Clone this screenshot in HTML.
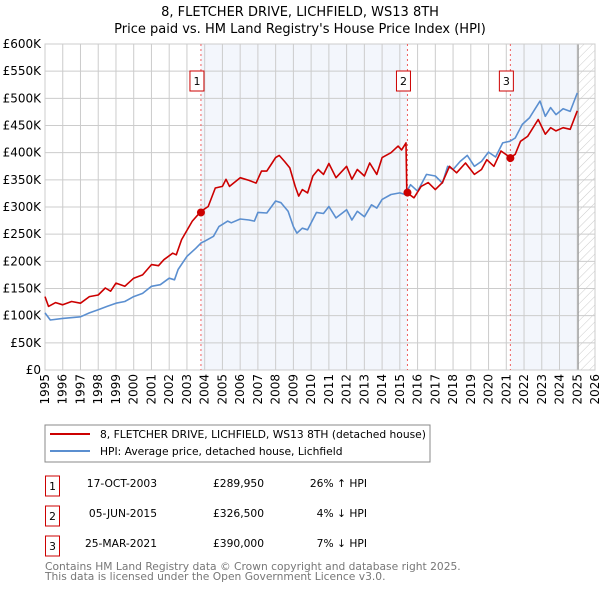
<!DOCTYPE html>
<html><head><meta charset="utf-8"><style>
body{margin:0;background:#fff;font-family:"Liberation Sans","DejaVu Sans",sans-serif}
svg text{font-family:"DejaVu Sans","Liberation Sans",sans-serif}
</style></head><body>
<svg id="chart" width="600" height="590" xmlns="http://www.w3.org/2000/svg">
<defs><pattern id="hatch" width="6" height="6" patternUnits="userSpaceOnUse" patternTransform="rotate(45)"><line x1="0" y1="0" x2="0" y2="6" stroke="#ccc" stroke-width="1"/></pattern></defs>
<text x="300" y="16" text-anchor="middle" font-size="13">8, FLETCHER DRIVE, LICHFIELD, WS13 8TH</text>
<text x="300" y="33" text-anchor="middle" font-size="13">Price paid vs. HM Land Registry's House Price Index (HPI)</text>
<g id="plot"></g>
<g>
<rect x="45" y="425" width="385" height="37" fill="#fff" stroke="#888"/>
<line x1="50" y1="434" x2="90" y2="434" stroke="#cc0000" stroke-width="2"/>
<text x="100" y="438" font-size="10.7">8, FLETCHER DRIVE, LICHFIELD, WS13 8TH (detached house)</text>
<line x1="50" y1="451" x2="90" y2="451" stroke="#5b8fd0" stroke-width="2"/>
<text x="100" y="455" font-size="10.7">HPI: Average price, detached house, Lichfield</text>
</g>
<g font-size="10.7">
<rect x="45.5" y="476" width="14" height="20" fill="#fff" stroke="#cc0000"/><text x="52.5" y="490" text-anchor="middle">1</text>
<text x="157" y="487" text-anchor="end">17-OCT-2003</text><text x="264" y="487" text-anchor="end">£289,950</text><text x="367" y="487" text-anchor="end">26% ↑ HPI</text>
<rect x="45.5" y="506" width="14" height="20" fill="#fff" stroke="#cc0000"/><text x="52.5" y="520" text-anchor="middle">2</text>
<text x="157" y="517" text-anchor="end">05-JUN-2015</text><text x="264" y="517" text-anchor="end">£326,500</text><text x="367" y="517" text-anchor="end">4% ↓ HPI</text>
<rect x="45.5" y="536" width="14" height="20" fill="#fff" stroke="#cc0000"/><text x="52.5" y="550" text-anchor="middle">3</text>
<text x="157" y="547" text-anchor="end">25-MAR-2021</text><text x="264" y="547" text-anchor="end">£390,000</text><text x="367" y="547" text-anchor="end">7% ↓ HPI</text>
</g>
<text x="45" y="570" font-size="10.7" fill="#777">Contains HM Land Registry data © Crown copyright and database right 2025.</text>
<text x="45" y="580" font-size="10.7" fill="#777">This data is licensed under the Open Government Licence v3.0.</text>
</svg>
<script>
const hpiYears=[1995,1995.3,1996,1997,1997.5,1998,1998.5,1999,1999.5,2000,2000.5,2001,2001.5,2002,2002.3,2002.5,2003,2003.5,2003.8,2004,2004.5,2004.8,2005,2005.3,2005.5,2006,2006.5,2006.8,2007,2007.5,2008,2008.3,2008.7,2009,2009.2,2009.5,2009.8,2010.3,2010.7,2011,2011.4,2012,2012.3,2012.6,2013,2013.4,2013.7,2014,2014.5,2015,2015.3,2015.6,2016,2016.5,2017,2017.4,2017.7,2018,2018.4,2018.8,2019.2,2019.6,2020,2020.4,2020.8,2021.2,2021.5,2021.9,2022.3,2022.9,2023.2,2023.5,2023.8,2024.2,2024.6,2025];
const hpiValues=[105,92,95,98,105,111,117,123,126,135,141,154,157,169,166,185,209,224,234,237,246,264,268,274,271,278,276,274,290,289,311,308,292,264,252,261,258,290,288,301,280,295,276,292,282,304,298,314,323,326,323,341,329,360,357,344,375,369,384,395,375,384,401,392,418,421,427,452,464,495,467,483,470,481,476,510];
const propYears=[1995,1995.2,1995.6,1996,1996.5,1997,1997.5,1998,1998.4,1998.7,1999,1999.5,2000,2000.5,2001,2001.4,2001.7,2002.2,2002.4,2002.7,2003.3,2003.79,2004.2,2004.6,2005,2005.2,2005.4,2006,2006.5,2006.9,2007.2,2007.5,2007.8,2008,2008.2,2008.5,2008.8,2009.1,2009.3,2009.5,2009.8,2010.1,2010.4,2010.7,2011,2011.4,2012,2012.3,2012.6,2013,2013.3,2013.7,2014,2014.5,2014.9,2015.1,2015.35,2015.39,2015.8,2016.2,2016.6,2017,2017.4,2017.8,2018.2,2018.7,2019.2,2019.6,2019.9,2020.3,2020.7,2021.23,2021.5,2021.8,2022.2,2022.8,2023.2,2023.5,2023.8,2024.2,2024.6,2025];
const propValues=[135,117,124,120,126,123,135,138,151,145,160,154,169,175,194,192,203,215,212,240,274,292,301,335,338,351,338,354,349,344,366,366,381,391,395,384,372,338,320,332,326,357,369,360,380,354,375,351,369,357,381,360,391,400,412,405,418,326.5,317,338,345,332,345,375,363,381,360,369,387,375,403,391,397,421,430,461,434,446,440,446,443,477];
const saleYears=[2003.79,2015.43,2021.23];
const saleValues=[289.95,326.5,390];
const saleLabels=["1","2","3"];
const yTicks=[0,50,100,150,200,250,300,350,400,450,500,550,600];
const yTickLabels=["£0","£50K","£100K","£150K","£200K","£250K","£300K","£350K","£400K","£450K","£500K","£550K","£600K"];
const xTicks=[1995,1996,1997,1998,1999,2000,2001,2002,2003,2004,2005,2006,2007,2008,2009,2010,2011,2012,2013,2014,2015,2016,2017,2018,2019,2020,2021,2022,2023,2024,2025,2026];

const X0=45,X1=595,Y0=370,Y1=44;
const xs=y=>X0+(y-1995)/31*(X1-X0);
const ys=v=>Y0-v/600*(Y0-Y1);
const NS="http://www.w3.org/2000/svg";
const g=document.getElementById('plot');
function mk(t,a){const e=document.createElementNS(NS,t);for(const k in a)e.setAttribute(k,a[k]);g.appendChild(e);return e;}
let bg=mk('rect',{x:X0,y:Y1,width:X1-X0,height:Y0-Y1,fill:'#fff'});


const spans=[[saleYears[0],saleYears[1]],[saleYears[2],2025.05]];
spans.forEach((s,i)=>{const r=mk('rect',{x:xs(s[0]),y:Y1,width:xs(s[1])-xs(s[0]),height:Y0-Y1,fill:'#eef2fb',opacity:0.7});

});
let ht=mk('rect',{x:xs(2025.05),y:Y1,width:X1-xs(2025.05),height:Y0-Y1,fill:'url(#hatch)'});


yTicks.forEach((v,i)=>{const l=mk('line',{x1:X0,x2:X1,y1:ys(v),y2:ys(v),stroke:'#ccc','stroke-width':1});


const t=mk('text',{x:X0-4,y:ys(v)+4,'text-anchor':'end','font-size':12});t.textContent=yTickLabels[i];

});
xTicks.forEach(y=>{const l=mk('line',{x1:xs(y),x2:xs(y),y1:Y1,y2:Y0,stroke:'#ccc','stroke-width':1});


const t=mk('text',{x:0,y:0,'text-anchor':'end','font-size':12,transform:`translate(${xs(y)+4},${Y0+4}) rotate(-90)`});t.textContent=y;

});
let nl=mk('line',{x1:xs(2025.05),x2:xs(2025.05),y1:Y1,y2:Y0,stroke:'#999','stroke-width':1.2});


let fr=mk('rect',{x:X0,y:Y1,width:X1-X0,height:Y0-Y1,fill:'none',stroke:'#ccc'});


saleYears.forEach((y,i)=>{const l=mk('line',{x1:xs(y),x2:xs(y),y1:Y1,y2:Y0,stroke:'#f06060','stroke-width':1,'stroke-dasharray':'2,3'});


const b=mk('rect',{x:xs(y)-11,y:71,width:14,height:20,fill:'#fff',stroke:'#cc0000'});


const t=mk('text',{x:xs(y)-4,y:85,'text-anchor':'middle','font-size':11});t.textContent=saleLabels[i];

});
const path=(xa,va)=>xa.map((x,i)=>(i?'L':'M')+xs(x).toFixed(1)+','+ys(va[i]).toFixed(1)).join('');
let hl=mk('path',{d:path(hpiYears,hpiValues),fill:'none',stroke:'#5b8fd0','stroke-width':1.6,'stroke-linejoin':'round'});


let pl=mk('path',{d:path(propYears,propValues),fill:'none',stroke:'#cc0000','stroke-width':1.6,'stroke-linejoin':'round'});


saleYears.forEach((y,i)=>{const c=mk('circle',{cx:xs(y),cy:ys(saleValues[i]),r:4,fill:'#cc0000'});

});
</script>
</body></html>
